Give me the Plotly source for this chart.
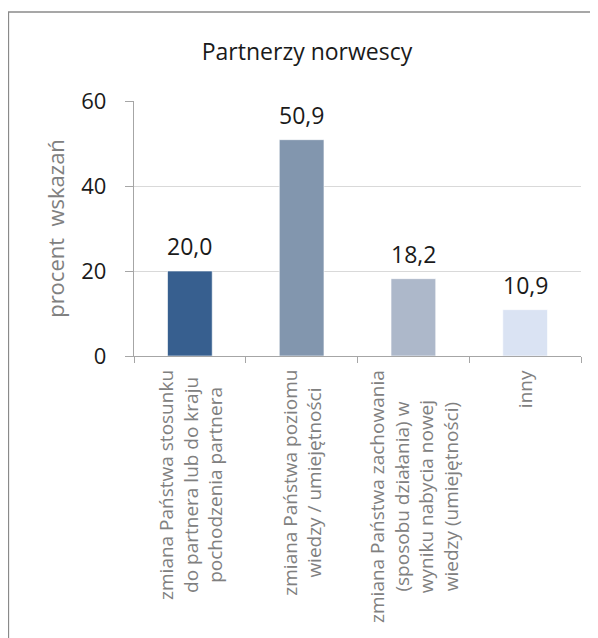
import plotly.graph_objects as go

categories = [
    "zmiana Państwa stosunku<br>do partnera lub do kraju<br>pochodzenia partnera",
    "zmiana Państwa poziomu<br>wiedzy / umiejętności",
    "zmiana Państwa zachowania<br>(sposobu działania) w<br>wyniku nabycia nowej<br>wiedzy (umiejętności)",
    "inny",
]
values = [20.0, 50.9, 18.2, 10.9]
value_labels = ["20,0", "50,9", "18,2", "10,9"]
bar_colors = ["#375F8F", "#8296AE", "#ADB8CA", "#DAE3F3"]
y_ticks = [0, 20, 40, 60]

# page body adds an 8px offset; figure coordinates below account for it
W, H = 598, 638
ML, MR, MT, MB = 126, 25, 93, 290
FONT = "Open Sans"

fig = go.Figure()
fig.add_trace(go.Bar(
    x=categories,
    y=values,
    marker=dict(color=bar_colors, line=dict(color="rgba(255,255,255,0.6)", width=1)),
    hoverinfo="skip",
))

annotations = []
for c, v, lab in zip(categories, values, value_labels):
    annotations.append(dict(
        x=c, y=v, xref="x", yref="y", text=lab, showarrow=False,
        xanchor="center", yanchor="bottom", yshift=7,
        font=dict(family=FONT, size=23, color="#1a1a1a"),
    ))
    annotations.append(dict(
        x=c, y=0, xref="x", yref="paper", text=c, showarrow=False,
        xanchor="center", yanchor="top", yshift=-12, textangle=-90,
        align="center",
        font=dict(family=FONT, size=19, color="#808080"),
    ))

pw = W - ML - MR
ph = H - MT - MB
frame = dict(
    type="rect", xref="paper", yref="paper",
    x0=(0.5 - ML) / pw, x1=(W + 10 - ML) / pw,
    y0=-(H + 10 - MT - ph) / ph, y1=(H - MB - 4) / ph,
    line=dict(color="#8a8a8a", width=1.3), fillcolor="rgba(0,0,0,0)",
    layer="below",
)

fig.update_layout(
    width=W, height=H,
    margin=dict(l=ML, r=MR, t=MT, b=MB, pad=0),
    paper_bgcolor="white", plot_bgcolor="white",
    showlegend=False,
    bargap=0.6,
    title=dict(
        text="Partnerzy norwescy", x=299 / W, xref="container", xanchor="center",
        y=1 - 44 / H, yref="container", yanchor="middle",
        font=dict(family=FONT, size=23, color="#1a1a1a"),
    ),
    xaxis=dict(
        showticklabels=False, ticks="outside", tickson="boundaries",
        ticklen=6, tickcolor="#A6A6A6", showline=True, linecolor="#A6A6A6",
        linewidth=1.3, showgrid=False, fixedrange=True,
    ),
    yaxis=dict(
        range=[0, 60], tickvals=y_ticks, ticks="outside", ticklen=8,
        tickcolor="#A6A6A6", showline=True, linecolor="#A6A6A6", linewidth=1.3,
        gridcolor="#D9D9D9", gridwidth=1, zeroline=False,
        tickfont=dict(family=FONT, size=22, color="#1a1a1a"),
        ticklabelstandoff=14,
        title=dict(text="procent  wskazań", standoff=10,
                   font=dict(family=FONT, size=22, color="#808080")),
        fixedrange=True,
    ),
    annotations=annotations,
    shapes=[frame],
)

fig.write_html("out.html")
